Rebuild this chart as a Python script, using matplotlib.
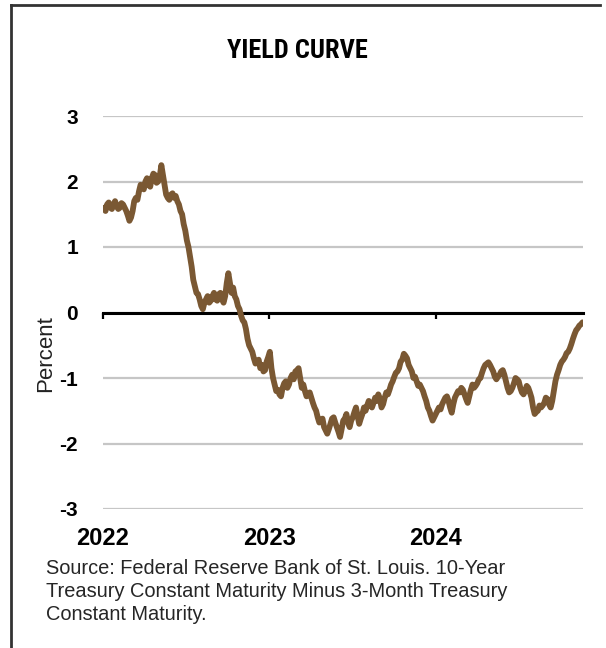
import matplotlib
matplotlib.use("Agg")
import matplotlib.pyplot as plt
import matplotlib.dates as mdates
from matplotlib.lines import Line2D
from matplotlib import font_manager
import pandas as pd

# 10-Year minus 3-Month Treasury constant maturity spread (percent),
# two readings per week starting 3 Jan 2022
start_date = "2022-01-03"
spread = [
    1.60, 1.55, 1.65, 1.68, 1.60, 1.58, 1.65, 1.70, 1.62, 1.58,
    1.60, 1.67, 1.65, 1.60, 1.55, 1.48, 1.40, 1.45, 1.55, 1.70,
    1.75, 1.72, 1.85, 1.95, 1.90, 1.88, 2.00, 2.05, 1.95, 1.92,
    2.05, 2.12, 2.10, 1.98, 2.00, 2.08, 2.25, 2.10, 1.95, 1.80,
    1.75, 1.72, 1.80, 1.82, 1.75, 1.78, 1.70, 1.65, 1.55, 1.50,
    1.35, 1.25, 1.10, 1.00, 0.85, 0.70, 0.50, 0.40, 0.30, 0.28,
    0.20, 0.10, 0.05, 0.15, 0.20, 0.25, 0.15, 0.18, 0.25, 0.30,
    0.20, 0.18, 0.28, 0.30, 0.20, 0.15, 0.25, 0.45, 0.60, 0.45,
    0.30, 0.38, 0.25, 0.20, 0.10, 0.05, -0.05, -0.12, -0.15, -0.25,
    -0.40, -0.50, -0.55, -0.60, -0.70, -0.78, -0.75, -0.72, -0.85, -0.80,
    -0.90, -0.88, -0.75, -0.68, -0.60, -0.85, -1.00, -1.10, -1.20, -1.18,
    -1.25, -1.28, -1.15, -1.08, -1.05, -1.15, -1.10, -1.00, -0.95, -1.02,
    -0.90, -0.88, -0.85, -1.00, -1.15, -1.10, -1.20, -1.28, -1.25, -1.22,
    -1.30, -1.38, -1.45, -1.50, -1.60, -1.68, -1.65, -1.62, -1.75, -1.80,
    -1.85, -1.78, -1.70, -1.62, -1.60, -1.68, -1.75, -1.82, -1.90, -1.78,
    -1.65, -1.62, -1.55, -1.68, -1.75, -1.65, -1.60, -1.52, -1.45, -1.58,
    -1.70, -1.62, -1.55, -1.45, -1.50, -1.42, -1.35, -1.40, -1.45, -1.38,
    -1.30, -1.35, -1.25, -1.32, -1.45, -1.40, -1.30, -1.22, -1.25, -1.18,
    -1.10, -1.05, -0.98, -0.92, -0.90, -0.85, -0.75, -0.72, -0.63, -0.66,
    -0.70, -0.80, -0.85, -0.90, -1.00, -0.98, -1.05, -1.12, -1.10, -1.15,
    -1.20, -1.28, -1.35, -1.45, -1.50, -1.58, -1.65, -1.60, -1.55, -1.50,
    -1.45, -1.48, -1.40, -1.35, -1.30, -1.28, -1.35, -1.45, -1.53, -1.40,
    -1.30, -1.25, -1.20, -1.22, -1.15, -1.18, -1.25, -1.32, -1.38, -1.28,
    -1.18, -1.10, -1.15, -1.12, -1.08, -1.02, -1.00, -0.92, -0.85, -0.80,
    -0.78, -0.76, -0.80, -0.85, -0.90, -0.98, -1.02, -0.98, -0.95, -0.90,
    -0.88, -0.95, -1.05, -1.15, -1.22, -1.20, -1.15, -1.08, -1.00, -1.02,
    -1.05, -1.15, -1.22, -1.25, -1.20, -1.12, -1.15, -1.22, -1.30, -1.45,
    -1.55, -1.52, -1.50, -1.42, -1.45, -1.42, -1.38, -1.30, -1.32, -1.40,
    -1.45, -1.35, -1.20, -1.05, -0.95, -0.88, -0.80, -0.75, -0.72, -0.68,
    -0.62, -0.60, -0.55, -0.48, -0.40, -0.33, -0.27, -0.24, -0.20, -0.18,
    -0.15,
]
dates = pd.date_range(start_date, periods=len(spread), freq="84h")

y_ticks = [3, 2, 1, 0, -1, -2, -3]
y_tick_labels = ["3", "2", "1", "0", "-1", "-2", "-3"]

title_text = "YIELD CURVE"
y_label = "Percent"
source_text = ("Source: Federal Reserve Bank of St. Louis. 10-Year\n"
               "Treasury Constant Maturity Minus 3-Month Treasury\n"
               "Constant Maturity.")

installed = {f.name for f in font_manager.fontManager.ttflist}
title_family = [f for f in ["Roboto Condensed", "Liberation Sans Narrow", "Roboto"]
                if f in installed] or ["DejaVu Sans"]

W, H = 606, 648
fig = plt.figure(figsize=(W / 100, H / 100), dpi=100)
fig.patch.set_facecolor("white")

ax = fig.add_axes([103 / W, 1 - 509 / H, (583 - 103) / W, (509 - 116) / H])
ax.set_facecolor("white")

ax.plot(dates, spread, color="#7a5833", lw=4.2, solid_joinstyle="round",
        solid_capstyle="round", zorder=3)

ax.set_ylim(-3, 3)
ax.set_xlim(pd.Timestamp("2022-01-01"), pd.Timestamp("2024-11-19"))

# horizontal grid
ax.set_yticks(y_ticks)
ax.set_yticklabels(y_tick_labels, fontsize=15, fontweight="bold",
                   family="Liberation Sans")
ax.tick_params(axis="y", length=0, pad=18)
ax.yaxis.grid(True, color="#c6c6c6", lw=1.6)
ax.set_axisbelow(True)

for side in ["left", "right", "top"]:
    ax.spines[side].set_visible(False)

# zero line carries the year tick marks
ax.spines["bottom"].set_position(("data", 0))
ax.spines["bottom"].set_color("black")
ax.spines["bottom"].set_linewidth(2.2)
ax.spines["bottom"].set_zorder(2)
ax.xaxis.set_major_locator(mdates.YearLocator())
ax.tick_params(axis="x", direction="out", length=4, width=1.6,
               labelbottom=False)

# year labels along the bottom of the plot
sec = ax.secondary_xaxis("bottom")
sec.xaxis.set_major_locator(mdates.YearLocator())
sec.xaxis.set_major_formatter(mdates.DateFormatter("%Y"))
sec.spines["bottom"].set_visible(False)
sec.tick_params(axis="x", length=0, pad=13)
for lbl in sec.get_xticklabels():
    lbl.set_fontsize(17)
    lbl.set_fontweight("bold")
    lbl.set_family("Liberation Sans")

fig.text(297 / W, 1 - 51 / H, title_text, ha="center", va="center",
         fontsize=19, fontweight="bold", family=title_family + ["DejaVu Sans"],
         fontstretch="condensed", color="black")

fig.text(46 / W, 1 - 354 / H, y_label, rotation=90, ha="center",
         va="center", fontsize=16, family="Liberation Sans", color="#222222")

fig.text(46 / W, 1 - 559 / H, source_text, ha="left", va="top",
         fontsize=14.4, family="Liberation Sans", color="#262626",
         linespacing=1.25)

# page frame
frame_kw = dict(color="#333333", lw=2, transform=fig.transFigure)
fig.add_artist(Line2D([11 / W, 11 / W], [0, 1 - 5 / H], **frame_kw))
fig.add_artist(Line2D([11 / W, 600 / W], [1 - 5 / H, 1 - 5 / H], **frame_kw))

fig.savefig("out.png", dpi=100, facecolor="white")
